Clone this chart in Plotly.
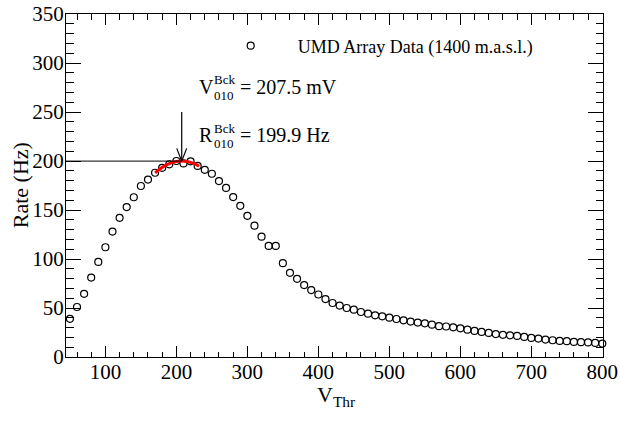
import plotly.graph_objects as go

# ---- data ----
v_thr = [50, 60, 70, 80, 90, 100, 110, 120, 130, 140, 150, 160, 170, 180, 190,
         200, 210, 220, 230, 240, 250, 260, 270, 280, 290, 300, 310, 320, 330,
         340, 350, 360, 370, 380, 390, 400, 410, 420, 430, 440, 450, 460, 470,
         480, 490, 500, 510, 520, 530, 540, 550, 560, 570, 580, 590, 600, 610,
         620, 630, 640, 650, 660, 670, 680, 690, 700, 710, 720, 730, 740, 750,
         760, 770, 780, 790, 800]
rate = [39, 51, 64.5, 81, 97, 112, 128, 142, 153, 163, 174.5, 181, 188, 193, 196.6,
        200, 197.5, 199.7, 195, 191, 187, 179.5, 172.5, 163.2, 154.3, 144.1, 134, 122.8, 113.3,
        113.3, 95.7, 85.9, 79.8, 73.4, 68.3, 63.8, 59.1, 55.1, 52.5, 50, 48.3, 45.9, 44.2,
        42.5, 41.5, 40.1, 38.8, 37.4, 36.1, 35.1, 34.4, 33, 31.5, 31.1, 30.3, 29.3, 27.9,
        26.6, 25.6, 24.6, 23.4, 22.6, 22.1, 21.5, 20.5, 19.5, 18.8, 17.8, 17.1, 16.4, 16.1,
        15.4, 15.1, 14.9, 14.4, 13.7]

fit_v = [170, 180, 190, 200, 207.5, 215, 225, 232]
fit_r = [187.9, 193.5, 197.3, 199.4, 199.9, 199.4, 197.3, 194.8]

x_ticks = [100, 200, 300, 400, 500, 600, 700, 800]
y_ticks = [0, 50, 100, 150, 200, 250, 300, 350]

v_bck = 207.5   # mV
r_bck = 199.9   # Hz
legend_label = "UMD Array Data (1400 m.a.s.l.)"

FONT = "Liberation Serif"

fig = go.Figure()
fig.add_trace(go.Scatter(
    x=v_thr, y=rate, mode="markers",
    name="&nbsp;" * 6 + legend_label,
    marker=dict(symbol="circle-open", size=7, color="black", line=dict(width=1.2, color="black")),
    cliponaxis=False, showlegend=True))
fig.add_trace(go.Scatter(
    x=fit_v, y=fit_r, mode="lines", line=dict(color="red", width=3, shape="spline"),
    showlegend=False))

# horizontal line to the y-axis and vertical arrow
fig.add_shape(type="line", xref="x", yref="y", x0=44.5, x1=v_bck, y0=r_bck, y1=r_bck,
              line=dict(color="black", width=1))
fig.add_shape(type="line", xref="x", yref="y", x0=v_bck, x1=v_bck, y0=r_bck + 50, y1=r_bck,
              line=dict(color="black", width=1.2))
fig.add_shape(type="path", xref="x", yref="y",
              path=f"M {v_bck-7},{r_bck+13} L {v_bck},{r_bck} L {v_bck+7},{r_bck+13}",
              line=dict(color="black", width=1.2))

W, H = 620, 422
L, T, R, B = 66, 14, 17, 64.5
pw, ph = W - L - R, H - T - B


def px(xpage):
    return (xpage - L) / pw


def py(ypage):
    return (H - B - ypage) / ph


def ann(text, xpix, ypix, size, xanchor="left", angle=0):
    fig.add_annotation(text=text, x=px(xpix), y=py(ypix), xref="paper", yref="paper",
                       xanchor=xanchor, yanchor="middle", showarrow=False, textangle=angle,
                       font=dict(family=FONT, size=size, color="black"))


ann("V", 197, 87, 20)
ann("Bck", 211.5, 80, 13)
ann("010", 211.5, 96, 13)
ann(f"= {v_bck} mV", 237.5, 87, 20)
ann("R", 197, 135, 20)
ann("Bck", 211.5, 128.5, 13)
ann("010", 211.5, 143.5, 13)
ann(f"= {r_bck} Hz", 237.5, 135, 20)

# axis titles
ann("Rate (Hz)", 20, 185.5, 22, "center", -90)
ann("V<sub>Thr</sub>", 336, 397, 22, "center")

axis_common = dict(showline=True, linecolor="black", linewidth=1, mirror="allticks",
                   ticks="inside", tickcolor="black", tickwidth=1, showgrid=False,
                   zeroline=False, automargin=False, ticklabeloverflow="allow",
                   tickfont=dict(family=FONT, size=21, color="black"))

fig.update_xaxes(range=[44.5, 801], tickvals=x_ticks, ticklen=11, ticklabelstandoff=-4,
                 minor=dict(dtick=20, tick0=0, ticklen=5.5, ticks="inside", tickcolor="black", tickwidth=1),
                 **axis_common)
fig.update_yaxes(range=[0, 350], tickvals=y_ticks, ticklen=15, ticklabelstandoff=-3,
                 minor=dict(dtick=10, tick0=0, ticklen=7.5, ticks="inside", tickcolor="black", tickwidth=1),
                 **axis_common)

fig.update_layout(
    width=W, height=H, margin=dict(l=L, r=R, t=T, b=B, autoexpand=False),
    paper_bgcolor="white", plot_bgcolor="white",
    legend=dict(x=px(230.7), y=py(46), xanchor="left", yanchor="middle",
                bgcolor="rgba(0,0,0,0)", font=dict(family=FONT, size=18, color="black")),
    showlegend=True,
)

# remove the browser's default 8px body margin so the figure fills the 620x422 window
fig.write_html("out.html", config={"displayModeBar": False},
               post_script="document.body.style.margin='0px';")
